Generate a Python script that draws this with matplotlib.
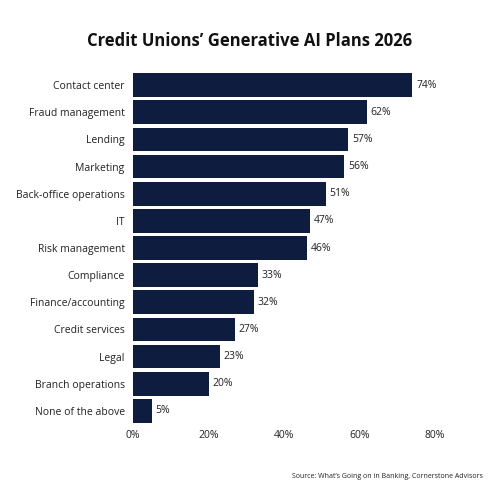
import matplotlib
matplotlib.use("Agg")
import matplotlib.pyplot as plt

categories = ["Contact center", "Fraud management", "Lending", "Marketing",
              "Back-office operations", "IT", "Risk management", "Compliance",
              "Finance/accounting", "Credit services", "Legal",
              "Branch operations", "None of the above"]
values = [74, 62, 57, 56, 51, 47, 46, 33, 32, 27, 23, 20, 5]
xticks = [0, 20, 40, 60, 80]
xticklabels = ["0%", "20%", "40%", "60%", "80%"]

plt.rcParams['font.family'] = ['Open Sans', 'DejaVu Sans']
color = "#0e1c3f"

fig = plt.figure(figsize=(5, 5), dpi=100)
ax = fig.add_axes([0.266, 0.151, 0.604, 0.706])
ypos = list(range(len(categories)))
ax.barh(ypos, values, height=0.87, color=color)
ax.set_ylim(len(categories) - 0.5, -0.5)
ax.set_xlim(0, 80)
ax.set_yticks(ypos)
ax.set_yticklabels(categories, fontsize=7.5, color="#222222")
ax.set_xticks(xticks)
ax.set_xticklabels(xticklabels, fontsize=7.5, color="#222222")
ax.tick_params(axis='both', length=0, pad=4)
ax.tick_params(axis='y', pad=6)
for s in ax.spines.values():
    s.set_visible(False)
for y, v in zip(ypos, values):
    ax.text(v + 1, y, f"{v}%", va='center', ha='left', fontsize=7.5, color="#222222")

fig.text(0.5, 0.918, "Credit Unions\u2019 Generative AI Plans 2026", ha='center', va='center',
         fontsize=12, fontweight='bold', color="#111111")
fig.text(0.966, 0.046, "Source: What\u2019s Going on in Banking, Cornerstone Advisors",
         ha='right', va='center', fontsize=5, color="#222222")
fig.savefig("out.png", dpi=100, facecolor='white')
